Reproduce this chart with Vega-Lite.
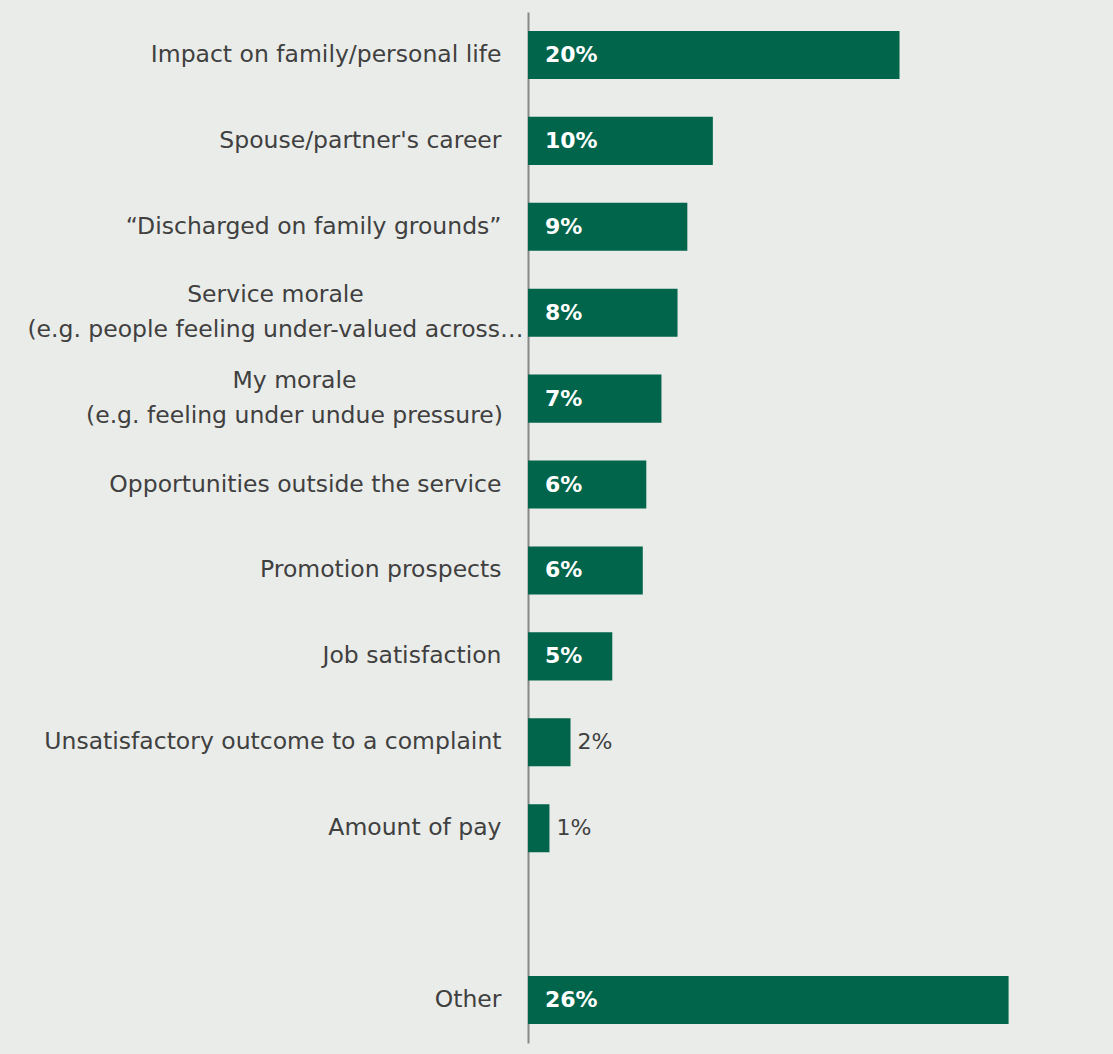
{
  "$schema": "https://vega.github.io/schema/vega-lite/v6.json",
  "autosize": {"type": "none"},
  "padding": {"left": 528, "top": 12, "right": 12, "bottom": 11},
  "width": 573,
  "height": 1031,
  "background": "#EAECE9",
  "config": {"view": {"stroke": null}, "font": "DejaVu Sans"},
  "data": {"values": [
    {"category": "Impact on family/personal life", "value": 20.1, "label": "20%"},
    {"category": "Spouse/partner's career", "value": 10.0, "label": "10%"},
    {"category": "“Discharged on family grounds”", "value": 8.62, "label": "9%"},
    {"category": "Service morale|(e.g. people feeling under-valued across…", "value": 8.09, "label": "8%"},
    {"category": "My morale|(e.g. feeling under undue pressure)", "value": 7.22, "label": "7%"},
    {"category": "Opportunities outside the service", "value": 6.40, "label": "6%"},
    {"category": "Promotion prospects", "value": 6.21, "label": "6%"},
    {"category": "Job satisfaction", "value": 4.56, "label": "5%"},
    {"category": "Unsatisfactory outcome to a complaint", "value": 2.30, "label": "2%"},
    {"category": "Amount of pay", "value": 1.16, "label": "1%"},
    {"category": "Other", "value": 26.0, "label": "26%"}
  ]},
  "encoding": {
    "y": {
      "field": "category", "type": "nominal",
      "scale": {
        "domain": ["Impact on family/personal life", "Spouse/partner's career", "“Discharged on family grounds”", "Service morale|(e.g. people feeling under-valued across…", "My morale|(e.g. feeling under undue pressure)", "Opportunities outside the service", "Promotion prospects", "Job satisfaction", "Unsatisfactory outcome to a complaint", "Amount of pay", " ", "Other"],
        "paddingInner": 0.44, "paddingOuter": 0.22
      },
      "axis": {
        "title": null, "ticks": false, "domain": true, "domainColor": "#888888", "domainWidth": 2,
        "labelFontSize": 23.5, "labelColor": "#404040", "labelLimit": 0,
        "labelExpr": "split(datum.label, '|')",
        "labelLineHeight": 35,
        "labelAlign": {"condition": {"test": "indexof(datum.label, '|') >= 0", "value": "center"}, "value": "right"},
        "labelOffset": {"condition": {"test": "indexof(datum.label, '|') >= 0", "value": -18}, "value": 0},
        "labelPadding": {"condition": [
          {"test": "indexof(datum.label, 'Service') == 0", "value": 253},
          {"test": "indexof(datum.label, 'My morale') == 0", "value": 234}
        ], "value": 27}
      }
    }
  },
  "layer": [
    {
      "mark": {"type": "bar", "color": "#00654A"},
      "encoding": {
        "x": {"field": "value", "type": "quantitative", "scale": {"domain": [0, 31], "nice": false}, "axis": null}
      }
    },
    {
      "transform": [{"filter": "datum.value >= 4"}],
      "mark": {"type": "text", "align": "left", "dx": 17, "fontSize": 22, "fontWeight": "bold", "color": "white"},
      "encoding": {
        "x": {"datum": 0, "type": "quantitative"},
        "text": {"field": "label"}
      }
    },
    {
      "transform": [{"filter": "datum.value < 4"}],
      "mark": {"type": "text", "align": "left", "dx": 7, "fontSize": 22, "color": "#404040"},
      "encoding": {
        "x": {"field": "value", "type": "quantitative"},
        "text": {"field": "label"}
      }
    }
  ]
}
